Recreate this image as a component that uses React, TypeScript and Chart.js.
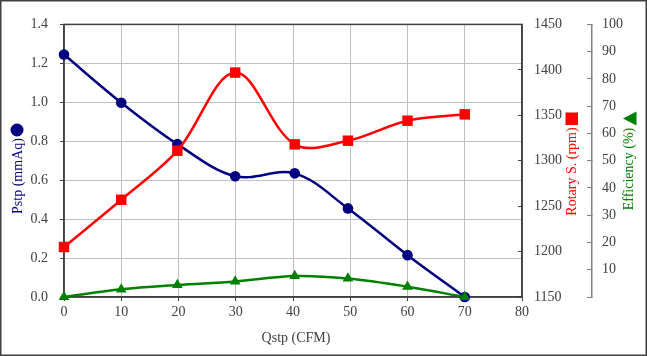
import React, { useEffect, useRef } from "react";
import { Chart, registerables } from "chart.js";

Chart.register(...registerables);

// Flow (CFM) at each measuring point
const qFlow = [0, 10, 19.8, 29.9, 40.3, 49.6, 60, 70];
// Static pressure (mmAq)
const pstp = [1.245, 0.998, 0.785, 0.62, 0.635, 0.455, 0.215, 0.0];
// Rotary speed (rpm)
const rotarySpeed = [1205, 1257, 1311, 1397, 1318, 1322, 1344, 1351];
// Efficiency (%)
const efficiency = [0, 2.8, 4.4, 5.7, 7.7, 6.8, 3.8, 0];

const xTitle = "Qstp (CFM)";
const yTitle = "Pstp (mmAq)";
const rpmTitle = "Rotary S. (rpm)";
const effTitle = "Efficiency (%)";

const NAVY = "#000080";
const RED = "#ff0000";
const GREEN = "#008000";
const AXIS = "#404040";
const GRID = "#c0c0c0";
const FONT = "'Liberation Serif', 'DejaVu Serif', serif";

const decor = {
  id: "decor",
  beforeDatasetsDraw(chart: any) {
    const { ctx, chartArea: a } = chart;
    ctx.save();
    ctx.strokeStyle = AXIS;
    ctx.lineWidth = 1.5;
    ctx.strokeRect(a.left, a.top, a.right - a.left, a.bottom - a.top);
    ctx.restore();
  },
  afterDraw(chart: any) {
    const { ctx, width, height } = chart;
    ctx.save();
    ctx.strokeStyle = AXIS;
    ctx.lineWidth = 1.5;
    ctx.strokeRect(0.75, 0.75, width - 1.5, height - 1.5);

    ctx.font = "14px " + FONT;
    ctx.textAlign = "center";
    ctx.textBaseline = "middle";

    // x title
    ctx.fillStyle = AXIS;
    ctx.fillText(xTitle, 296, 338);

    const vtext = (t: string, x: number, y: number, color: string) => {
      ctx.save();
      ctx.translate(x, y);
      ctx.rotate(-Math.PI / 2);
      ctx.fillStyle = color;
      ctx.fillText(t, 0, 0);
      ctx.restore();
    };

    // left title + circle
    vtext(yTitle, 18, 176, NAVY);
    ctx.fillStyle = NAVY;
    ctx.beginPath();
    ctx.arc(17, 130, 6.5, 0, Math.PI * 2);
    ctx.fill();

    // rpm title + square
    vtext(rpmTitle, 572, 171.5, RED);
    ctx.fillStyle = RED;
    ctx.fillRect(565.5, 112.5, 12.5, 12.5);

    // efficiency title + triangle (rotated)
    vtext(effTitle, 629.5, 169, GREEN);
    ctx.fillStyle = GREEN;
    ctx.beginPath();
    ctx.moveTo(623, 118.5);
    ctx.lineTo(636.5, 111.5);
    ctx.lineTo(636.5, 125.5);
    ctx.closePath();
    ctx.fill();

    ctx.restore();
  },
};

export default function App() {
  const ref = useRef<HTMLCanvasElement | null>(null);

  useEffect(() => {
    document.body.style.margin = "0";
    const canvas = ref.current;
    if (!canvas) return;
    const tickFont = { family: FONT, size: 14 };

    const chart = new Chart(canvas, {
      type: "line",
      data: {
        datasets: [
          {
            label: yTitle,
            data: qFlow.map((x, i) => ({ x, y: pstp[i] })),
            yAxisID: "y",
            borderColor: NAVY,
            backgroundColor: NAVY,
            borderWidth: 2.5,
            pointStyle: "circle",
            pointRadius: 5.3,
            pointBorderWidth: 0,
            tension: 0.35,
            order: 3,
            clip: false as any,
          },
          {
            label: rpmTitle,
            data: qFlow.map((x, i) => ({ x, y: rotarySpeed[i] })),
            yAxisID: "y1",
            borderColor: RED,
            backgroundColor: RED,
            borderWidth: 2.5,
            pointStyle: "rect",
            pointRadius: 7.4,
            pointBorderWidth: 0,
            tension: 0.35,
            order: 2,
            clip: false as any,
          },
          {
            label: effTitle,
            data: qFlow.map((x, i) => ({ x, y: efficiency[i] })),
            yAxisID: "y2",
            borderColor: GREEN,
            backgroundColor: GREEN,
            borderWidth: 2.5,
            pointStyle: "triangle",
            pointRadius: 6.2,
            pointBorderWidth: 0,
            tension: 0.35,
            order: 1,
            clip: false as any,
          },
        ],
      },
      options: {
        animation: false,
        responsive: false,
        maintainAspectRatio: false,
        layout: { padding: { top: 18, left: 0, right: 0, bottom: 0 } },
        plugins: {
          legend: { display: false },
          tooltip: { enabled: false },
        },
        scales: {
          x: {
            type: "linear",
            position: "bottom",
            min: 0,
            max: 80,
            ticks: { stepSize: 10, color: AXIS, font: tickFont, padding: 3, maxRotation: 0 },
            grid: { color: GRID, lineWidth: 1, tickColor: AXIS, tickLength: 4 },
            border: { color: AXIS, width: 1.5 },
            afterFit: (s: any) => {
              s.height = 59;
            },
          },
          y: {
            type: "linear",
            position: "left",
            min: 0,
            max: 1.4,
            ticks: {
              stepSize: 0.2,
              color: AXIS,
              font: tickFont,
              padding: 12,
              callback: (v: any) => Number(v).toFixed(1),
            },
            grid: { color: GRID, lineWidth: 1, tickColor: AXIS, tickLength: 4 },
            border: { color: AXIS, width: 1.5 },
            afterFit: (s: any) => {
              s.width = 64;
            },
          },
          y1: {
            type: "linear",
            position: "right",
            weight: 0,
            min: 1150,
            max: 1450,
            ticks: {
              stepSize: 50,
              color: AXIS,
              font: tickFont,
              padding: 16,
              callback: (v: any) => String(v),
            },
            grid: { drawOnChartArea: false, tickColor: AXIS, tickLength: -4 },
            border: { color: AXIS, width: 1.5 },
            afterFit: (s: any) => {
              s.width = 70;
            },
          },
          y2: {
            type: "linear",
            position: "right",
            weight: 1,
            min: 0,
            max: 100,
            ticks: {
              stepSize: 10,
              color: AXIS,
              font: tickFont,
              padding: 15,
              callback: (v: any) => (Number(v) === 0 ? "" : String(v)),
            },
            grid: { drawOnChartArea: false, tickColor: "#808080", tickLength: -5 },
            border: { color: "#808080", width: 1.5 },
            afterFit: (s: any) => {
              s.width = 55;
            },
          },
        },
      },
      plugins: [decor],
    } as any);

    return () => chart.destroy();
  }, []);

  return (
    <div style={{ width: 647, height: 356 }}>
      <canvas ref={ref} width={647} height={356} style={{ display: "block", width: 647, height: 356 }} />
    </div>
  );
}
